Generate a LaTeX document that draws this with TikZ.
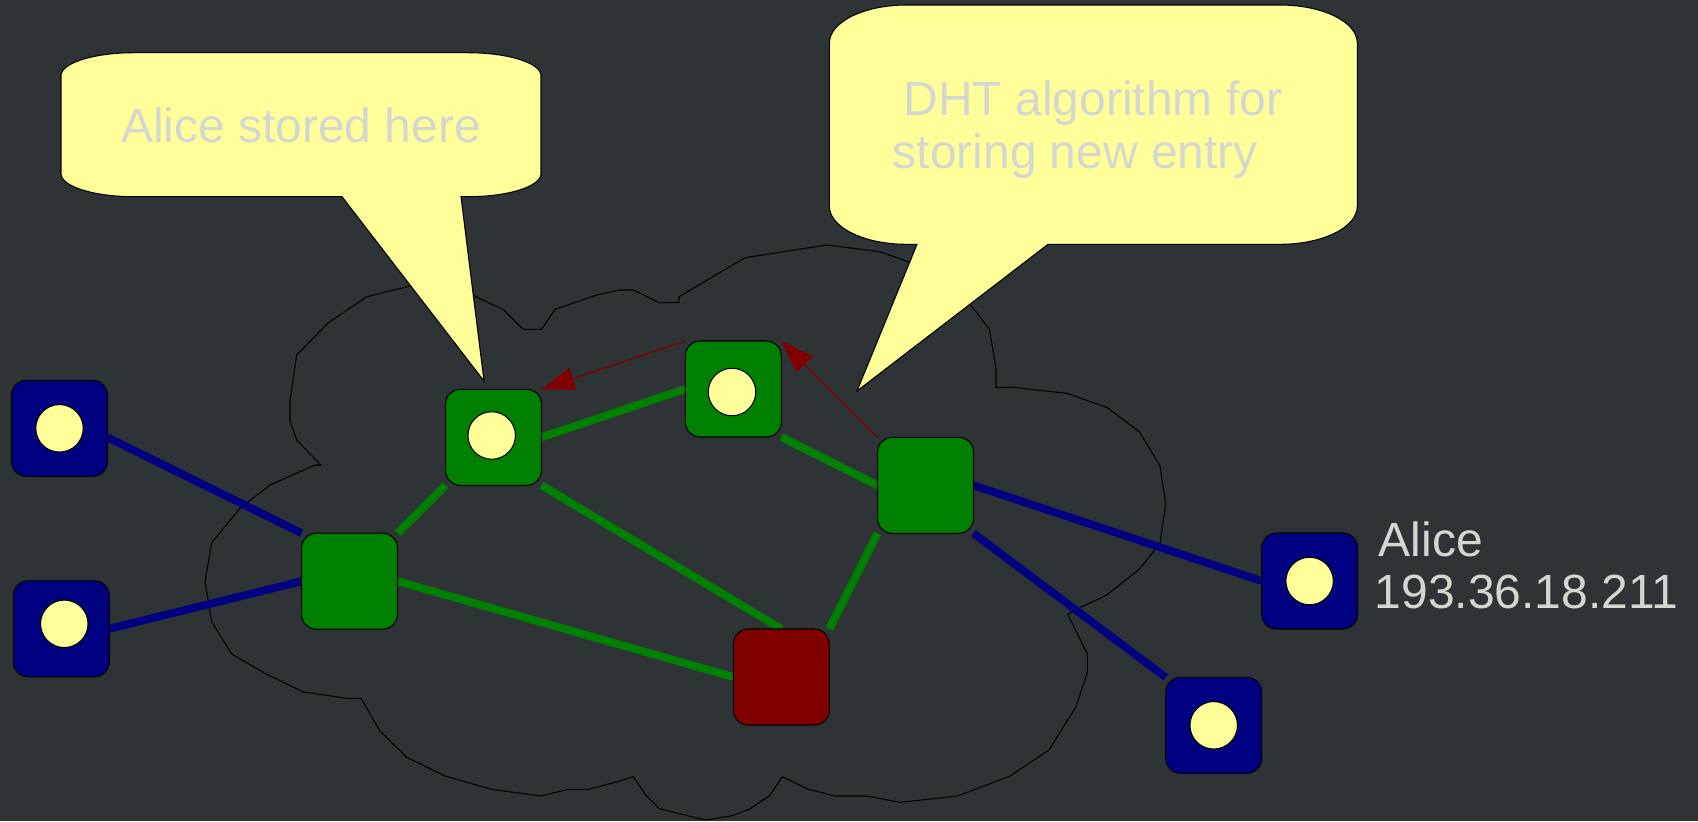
\documentclass[tikz,border=0pt]{standalone}
\usepackage{fontspec}
\setmainfont{Liberation Sans}
\usetikzlibrary{arrows.meta}
\definecolor{bgc}{HTML}{2E3436}
\definecolor{nodegreen}{HTML}{008000}
\definecolor{nodeblue}{HTML}{000080}
\definecolor{nodered}{HTML}{800000}
\definecolor{pale}{HTML}{FFFF99}
\definecolor{txt}{HTML}{D3D7CF}
\pgfdeclarelayer{back}
\pgfsetlayers{back,main}
\begin{document}
\begin{tikzpicture}[x=0.1mm,y=-0.1mm,
  peer/.style={rectangle, rounded corners=1.5mm, minimum size=9.6mm, inner sep=0pt, outer sep=0pt, draw=black, line width=0.3pt},
  gpeer/.style={peer, fill=nodegreen},
  bpeer/.style={peer, fill=nodeblue},
  rpeer/.style={peer, fill=nodered},
  hostdot/.style={circle, minimum size=4.75mm, inner sep=0pt, fill=pale, draw=black, line width=0.3pt},
  glink/.style={draw=nodegreen, line width=0.78mm},
  blink/.style={draw=nodeblue, line width=0.78mm},
  msg/.style={draw=nodered, line width=0.35pt, -{Triangle[length=3.3mm,width=2.25mm]}},
  bubble/.style={fill=pale, draw=black, line width=0.3pt},
  lbl/.style={text=txt, font=\fontsize{13.65pt}{15pt}\selectfont, inner sep=0pt},
  cloudline/.style={draw=black, line width=0.3pt}]

\useasboundingbox (0,0) rectangle (1698,821);

% peers
\node[bpeer] (b1) at (59.5,428.3) {};
\node[bpeer] (b2) at (61.3,628.8) {};
\node[bpeer] (alice) at (1309.6,581) {};
\node[bpeer] (b4) at (1213.7,725.3) {};
\node[gpeer] (g1) at (493.5,437.3) {};
\node[gpeer] (g2) at (733.3,389) {};
\node[gpeer] (g3) at (349.5,581.2) {};
\node[gpeer] (g4) at (925.5,485.3) {};
\node[rpeer] (r) at (781.3,677) {};

\node[hostdot] (d1) at (b1) {};
\node[hostdot] (d2) at ([xshift=0.3mm,yshift=0.5mm]b2.center) {};
\node[hostdot] (d3) at (alice) {};
\node[hostdot] (d4) at (b4) {};
\node[hostdot] (d5) at ([xshift=-0.18mm,yshift=0.18mm]g1.center) {};
\node[hostdot] (d6) at ([xshift=-0.13mm,yshift=-0.3mm]g2.center) {};

\begin{pgfonlayer}{back}
\fill[bgc] (0,0) rectangle (1698,821);
\draw[cloudline] (211.7,542.7) -- (240,508.3) -- (270,485) -- (315,465) -- (320.7,465) -- (296.7,440) -- (290,421) -- (290,400) -- (296.7,355) -- (328.3,322.7) -- (366.7,296.7) -- (410,286) -- (442,280) -- (474,295.7) -- (504,310) -- (523.3,329.3) -- (541.7,329.3) -- (555,309.3) -- (596.7,295) -- (619.3,290) -- (633.3,290) -- (659.3,302.7) -- (679,302.7) -- (679,296.7) -- (745,257.7) -- (826.7,245) -- (880,251.7) -- (910,262.3) -- (940,280) -- (970,304) -- (989.3,329) -- (996,368.3) -- (996,387.3) -- (1013.3,387.3) -- (1066.7,393.3) -- (1106.7,407.3) -- (1139.3,431.7) -- (1160,465.7) -- (1165.7,504) -- (1160,543.3) -- (1139.3,569.3) -- (1106.7,595) -- (1080,607.7) -- (1067.7,614.3) -- (1087.3,654) -- (1087.3,672.7) -- (1075.7,707.3) -- (1049,750) -- (1010,776) -- (957.7,796) -- (900,802.3) -- (866.7,796) -- (835,796) -- (808.3,789.3) -- (782.3,776.7) -- (769.3,796) -- (749.3,809.3) -- (730.7,816) -- (705,820) -- (659.3,808.7) -- (645.7,795) -- (633.3,776.7) -- (615,782.3) -- (588.3,789.3) -- (568.3,789.3) -- (541,796) -- (491.7,789.3) -- (445,776) -- (406.7,757.3) -- (380,731) -- (361,698.3) -- (346.7,698.3) -- (303.3,692) -- (265,673.3) -- (231.7,654) -- (211.7,621.7) -- (205,581.7) -- cycle;
\draw[glink] (g1.east) -- (g2.west);
\draw[glink] (g1.south west) -- (g3.north east);
\draw[glink] (g1.south east) -- (r.north);
\draw[glink] (g3.east) -- (r.west);
\draw[glink] (g2.south east) -- (g4.west);
\draw[glink] (g4.south west) -- (r.north east);
\draw[blink] ([yshift=-0.9mm]b1.east) -- (g3.north west);
\draw[blink] (b2.east) -- (g3.west);
\draw[blink] (g4.east) -- (alice.west);
\draw[blink] (g4.south east) -- (b4.north west);
\end{pgfonlayer}

% messages
\draw[msg] (g2.north west) -- (g1.north east);
\draw[msg] (g4.north west) -- (g2.north east);

% callouts
\draw[bubble] (461,196.7) -- (484,381) -- (342,196.7) -- (134,196.7) .. controls (93.7,196.7) and (61,186.4) .. (61,173.7) -- (61,75.7) .. controls (61,63) and (93.7,52.7) .. (134,52.7) -- (468,52.7) .. controls (508.3,52.7) and (541,63) .. (541,75.7) -- (541,173.7) .. controls (541,186.4) and (508.3,196.7) .. (468,196.7) -- cycle;
\draw[bubble] (1048,244.3) -- (857,391) -- (917,244.3) -- (906.4,244.3) .. controls (863.9,244.3) and (829.4,227.3) .. (829.4,206.3) -- (829.4,43) .. controls (829.4,22) and (863.9,5) .. (906.4,5) -- (1280.3,5) .. controls (1322.8,5) and (1357.3,22) .. (1357.3,43) -- (1357.3,206.3) .. controls (1357.3,227.3) and (1322.8,244.3) .. (1280.3,244.3) -- cycle;

% texts
\node[lbl, anchor=base] (t1) at (301,142.7) {Alice stored here};
\node[lbl, anchor=base west] (t2) at (903,115) {DHT algorithm for};
\node[lbl, anchor=base west] (t3) at (892,168.3) {storing new entry};
\node[lbl, anchor=base west] (t4) at (1378,556) {Alice};
\node[lbl, anchor=base west] (t5) at (1374,608.3) {193.36.18.211};
\end{tikzpicture}
\end{document}
